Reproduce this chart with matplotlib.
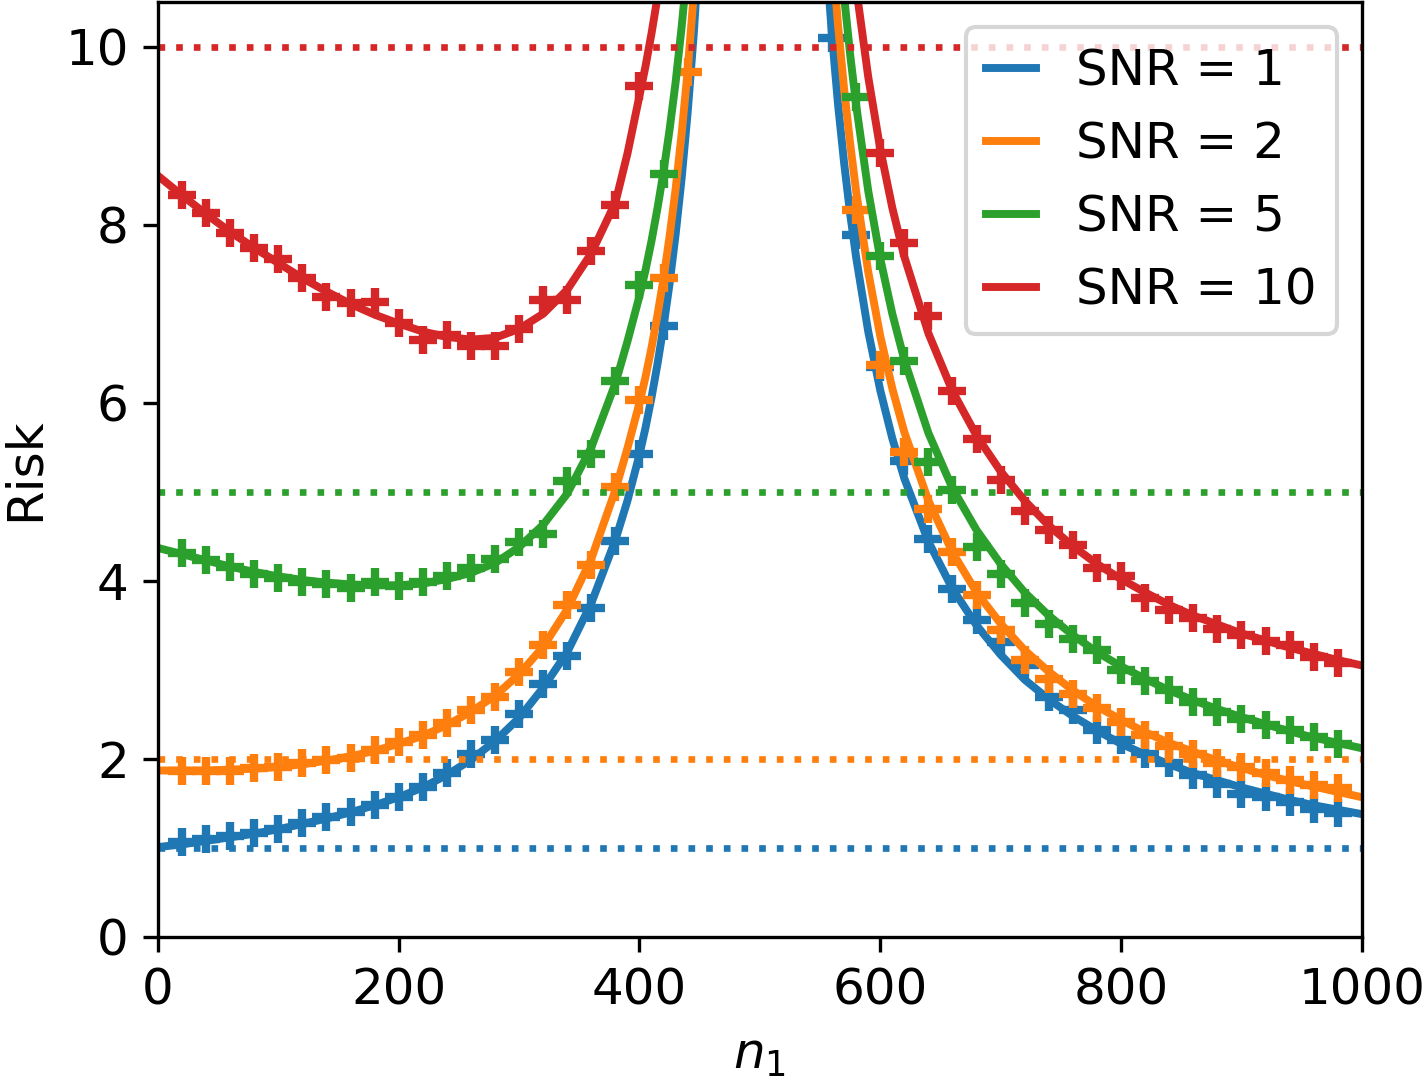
import numpy as np
import matplotlib
matplotlib.use("Agg")
import matplotlib.pyplot as plt

plt.rcParams["font.size"] = 12

snr_levels = [1, 2, 5, 10]
colors = ["tab:blue", "tab:orange", "tab:green", "tab:red"]

# theory curves, left of the peak (n1 < 500)
n_left = [0, 20, 40, 60, 80, 100, 120, 140, 160, 180, 200, 220, 240, 260, 280,
          300, 320, 340, 360, 380, 390, 400, 405, 410, 415, 420, 425, 430, 435,
          440, 445, 450]
nan = np.nan
risk_left = {
    1: [1.01, 1.04, 1.08, 1.12, 1.16, 1.21, 1.27, 1.33, 1.40, 1.48, 1.57, 1.68,
        1.82, 1.99, 2.20, 2.46, 2.80, 3.20, 3.75, 4.46, 4.90, 5.42, 5.72, 6.06,
        6.44, 6.86, 7.34, 7.89, 8.52, 9.26, 10.13, 11.18],
    2: [1.87, 1.87, 1.87, 1.88, 1.89, 1.91, 1.94, 1.98, 2.03, 2.09, 2.17, 2.26,
        2.38, 2.53, 2.71, 2.95, 3.26, 3.68, 4.25, 5.02, 5.49, 6.00, 6.29, 6.62,
        6.99, 7.40, 7.87, 8.40, 9.02, 9.73, 10.58, 11.60],
    5: [4.37, 4.30, 4.23, 4.16, 4.10, 4.05, 4.01, 3.98, 3.96, 3.95, 3.95, 3.97,
        4.02, 4.09, 4.20, 4.38, 4.63, 4.98, 5.50, 6.22, 6.69, 7.20, 7.49, 7.82,
        8.19, 8.60, 9.07, 9.60, 10.22, 10.93, nan, nan],
    10: [8.55, 8.33, 8.12, 7.92, 7.74, 7.57, 7.40, 7.25, 7.11, 6.99, 6.89, 6.80,
         6.74, 6.71, 6.73, 6.83, 7.00, 7.27, 7.68, 8.25, 8.80, 9.45, 9.78, 10.15,
         10.56, 11.00, nan, nan, nan, nan, nan, nan],
}

# theory curves, right of the peak (n1 > 500)
n_right = [555, 560, 565, 570, 575, 580, 590, 600, 610, 620, 640, 660, 680, 700,
           720, 740, 760, 780, 800, 820, 840, 860, 880, 900, 920, 940, 960, 980,
           1000]
risk_right = {
    1: [11.01, 10.11, 9.34, 8.69, 8.12, 7.63, 6.80, 6.14, 5.60, 5.15, 4.44, 3.91,
        3.50, 3.17, 2.89, 2.67, 2.48, 2.32, 2.17, 2.05, 1.94, 1.84, 1.76, 1.68,
        1.61, 1.54, 1.48, 1.43, 1.38],
    2: [nan, 11.06, 10.23, 9.52, 8.91, 8.37, 7.47, 6.75, 6.16, 5.67, 4.90, 4.32,
        3.87, 3.52, 3.22, 2.98, 2.77, 2.59, 2.44, 2.30, 2.18, 2.08, 1.98, 1.90,
        1.82, 1.75, 1.69, 1.63, 1.57],
    5: [nan, nan, 11.32, 10.56, 9.91, 9.34, 8.38, 7.62, 7.00, 6.48, 5.66, 5.04,
        4.57, 4.19, 3.87, 3.61, 3.39, 3.20, 3.04, 2.90, 2.77, 2.66, 2.56, 2.47,
        2.39, 2.31, 2.24, 2.18, 2.12],
    10: [nan, nan, nan, nan, 11.27, 10.66, 9.66, 8.85, 8.19, 7.64, 6.78, 6.13,
         5.63, 5.23, 4.90, 4.62, 4.39, 4.19, 4.02, 3.87, 3.73, 3.61, 3.51, 3.41,
         3.33, 3.25, 3.18, 3.11, 3.05],
}

# simulated risks (+ markers)
sim_n_left = [20, 40, 60, 80, 100, 120, 140, 160, 180, 200, 220, 240, 260, 280,
              300, 320, 340, 360, 380, 400, 420, 440]
sim_left = {
    1: [1.07, 1.10, 1.13, 1.17, 1.21, 1.28, 1.35, 1.40, 1.48, 1.57, 1.68, 1.84,
        2.05, 2.21, 2.50, 2.84, 3.16, 3.70, 4.45, 5.42, 6.86, nan],
    2: [1.87, 1.87, 1.87, 1.90, 1.91, 1.95, 1.99, 2.01, 2.10, 2.19, 2.27, 2.40,
        2.55, 2.69, 2.98, 3.28, 3.73, 4.18, 5.05, 6.03, 7.40, 9.72],
    5: [4.31, 4.23, 4.16, 4.08, 4.03, 3.99, 3.97, 3.92, 3.99, 3.94, 3.99, 4.05,
        4.14, 4.25, 4.44, 4.53, 5.12, 5.43, 6.24, 7.32, 8.57, nan],
    10: [8.33, 8.13, 7.91, 7.74, 7.62, 7.40, 7.19, 7.12, 7.13, 6.90, 6.71, 6.76,
         6.64, 6.64, 6.83, 7.15, 7.15, 7.71, 8.22, 9.56, nan, nan],
}
sim_n_right = [560, 580, 600, 620, 640, 660, 680, 700, 720, 740, 760, 780, 800,
               820, 840, 860, 880, 900, 920, 940, 960, 980]
sim_right = {
    1: [10.10, 7.88, 6.40, 5.35, 4.47, 3.91, 3.56, 3.31, 3.05, 2.70, 2.55, 2.32,
        2.21, 2.06, 1.95, 1.82, 1.72, 1.61, 1.57, 1.52, 1.44, 1.39],
    2: [nan, 8.16, 6.42, 5.45, 4.81, 4.32, 3.84, 3.45, 3.11, 2.90, 2.73, 2.57,
        2.42, 2.27, 2.15, 2.06, 1.95, 1.91, 1.84, 1.76, 1.71, 1.67],
    5: [nan, 9.43, 7.65, 6.47, 5.33, 5.02, 4.38, 4.08, 3.75, 3.52, 3.35, 3.22,
        3.00, 2.87, 2.77, 2.64, 2.53, 2.45, 2.38, 2.32, 2.25, 2.17],
    10: [nan, nan, 8.81, 7.80, 6.98, 6.13, 5.59, 5.13, 4.79, 4.57, 4.40, 4.15,
         4.06, 3.81, 3.67, 3.58, 3.46, 3.39, 3.33, 3.28, 3.15, 3.08],
}


def main():
    fig = plt.figure(figsize=(1423 / 300, 1077 / 300), dpi=300)
    ax = fig.add_axes([0.111, 0.130, 0.846, 0.868])

    for snr, c in zip(snr_levels, colors):
        ax.plot(n_left, risk_left[snr], color=c, lw=1.9, label="SNR = {}".format(snr))
        ax.plot(n_right, risk_right[snr], color=c, lw=1.9)
        ax.plot(sim_n_left, sim_left[snr], "+", color=c, ms=6.5, mew=2)
        ax.plot(sim_n_right, sim_right[snr], "+", color=c, ms=6.5, mew=2)
        ax.axhline(snr, color=c, ls=":", lw=1.6)

    ax.set_xlim(0, 1000)
    ax.set_ylim(0, 10.5)
    ax.set_xticks([0, 200, 400, 600, 800, 1000])
    ax.set_yticks([0, 2, 4, 6, 8, 10])
    ax.set_xlabel("$n_1$")
    ax.set_ylabel("Risk")
    ax.legend(loc="upper right", handlelength=1.01)

    fig.savefig("out.png", dpi=300)


if __name__ == "__main__":
    main()
